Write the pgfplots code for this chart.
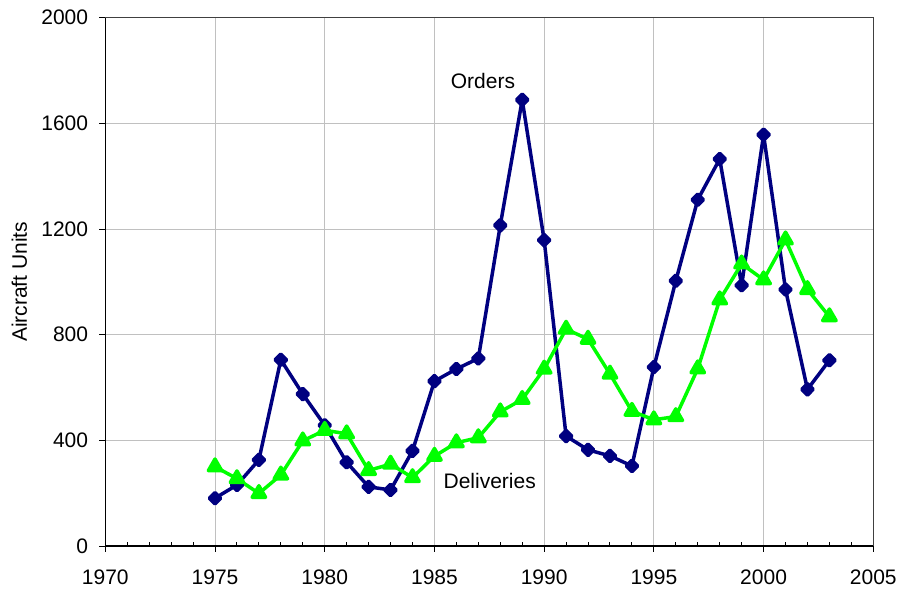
\documentclass[border=0pt]{standalone}
\usepackage{pgfplots}
\pgfplotsset{compat=1.18}
\usepackage{fontspec}
\setmainfont{Liberation Sans}
\definecolor{ordc}{RGB}{0,0,128}
\definecolor{delc}{RGB}{0,255,0}
\definecolor{gridc}{RGB}{192,192,192}
\begin{document}
\fontsize{21bp}{25bp}\selectfont
\begin{tikzpicture}
\begin{axis}[
  scale only axis, width=768bp, height=528.3bp,
  xmin=1970, xmax=2005, ymin=0, ymax=2000,
  axis lines*=left,
  axis line style={black, line width=1.2bp},
  xtick={1970,1975,...,2005}, ytick={0,400,...,2000},
  minor x tick num=4,
  tick align=inside,
  major tick length=-6bp, minor tick length=3.7bp,
  tick style={black, line width=1bp},
  grid=major, major grid style={gridc, line width=1bp},
  /pgf/number format/assume math mode=true,
  /pgf/number format/1000 sep={},
  ticklabel style={font=\fontsize{21bp}{25bp}\selectfont},
  xticklabel style={anchor=north, inner sep=0pt, yshift=-24bp},
  yticklabel style={anchor=east, inner sep=0pt, xshift=-17bp},
  ylabel={Aircraft Units},
  every axis y label/.style={at={(axis description cs:-0.112,0.5)}, rotate=90, anchor=center, font=\fontsize{21bp}{25bp}\selectfont},
  clip=false,
]
\draw[color=black!75, line width=1.2bp] (rel axis cs:0,1) -- (rel axis cs:1,1) -- (rel axis cs:1,0);
\addplot[ordc, line width=3.5bp, line join=round, mark=diamond*, mark size=5.7bp, mark options={xscale=1.33, solid, fill=ordc}] coordinates {
(1975,181) (1976,231) (1977,326) (1978,705) (1979,575) (1980,457) (1981,317) (1982,224) (1983,212) (1984,360)
(1985,624) (1986,670) (1987,710) (1988,1214) (1989,1689) (1990,1158) (1991,416) (1992,364) (1993,341) (1994,303)
(1995,677) (1996,1004) (1997,1311) (1998,1465) (1999,987) (2000,1557) (2001,971) (2002,593) (2003,703)
};
\addplot[delc, line width=3.5bp, line join=round, mark=triangle*, mark size=7.7bp, mark options={solid, fill=delc}] coordinates {
(1975,300) (1976,255) (1977,199) (1978,269) (1979,398) (1980,438) (1981,425) (1982,286) (1983,310) (1984,259)
(1985,340) (1986,391) (1987,410) (1988,508) (1989,555) (1990,670) (1991,821) (1992,783) (1993,651) (1994,510)
(1995,478) (1996,490) (1997,671) (1998,932) (1999,1068) (2000,1008) (2001,1159) (2002,971) (2003,868)
};
\node at (axis cs:1987.21,1761.5) {Orders};
\node at (axis cs:1987.52,246) {Deliveries};
\end{axis}
\pgfresetboundingbox
\path (-105.3bp,-45bp) rectangle (795.7bp,546bp);
\end{tikzpicture}
\end{document}
